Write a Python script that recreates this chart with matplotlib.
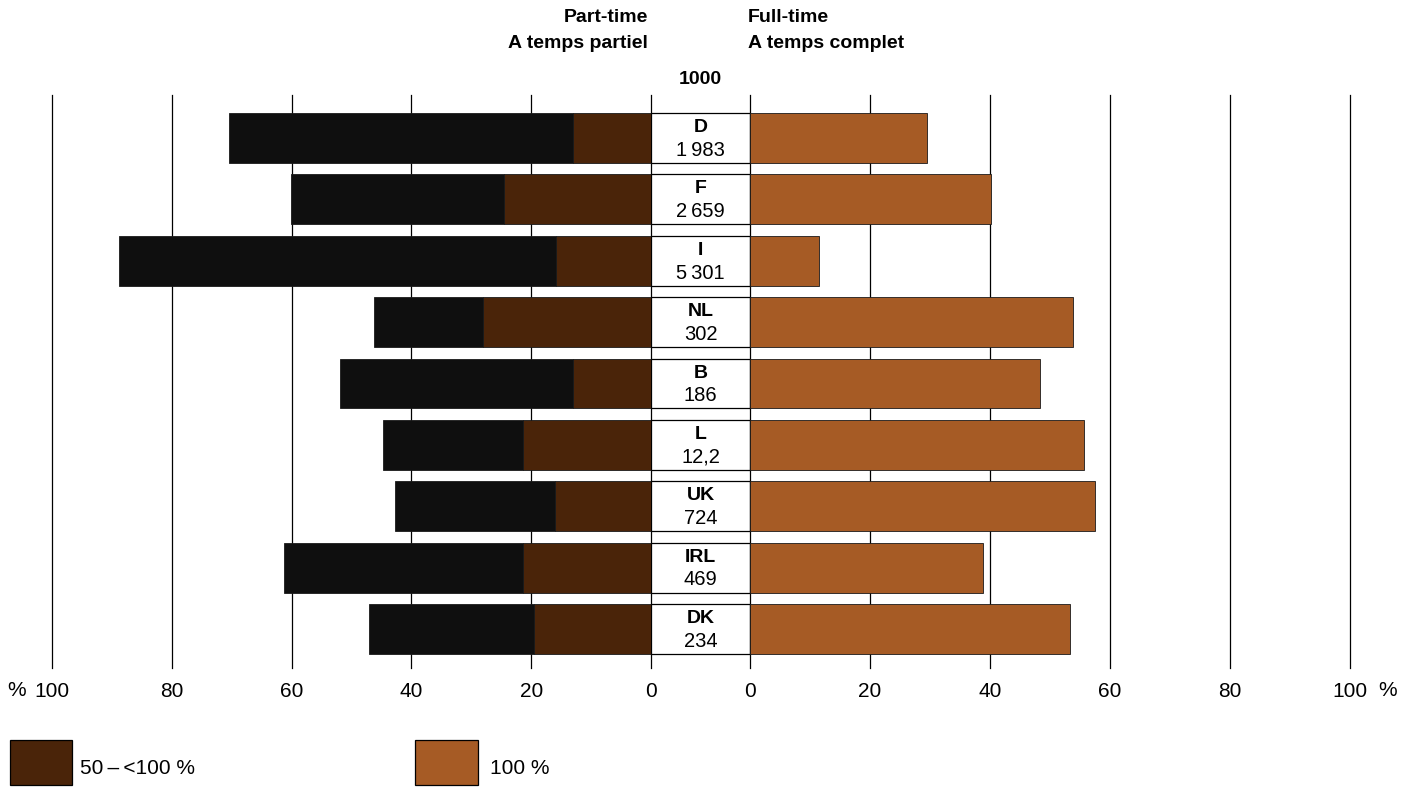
import numpy as np
import matplotlib.pyplot as plt
from matplotlib.patches import Rectangle

plt.rcParams["font.family"] = ["Liberation Sans", "DejaVu Sans"]

# ==================================================
# Data
# ==================================================
countries = ["D", "F", "I", "NL", "B", "L", "UK", "IRL", "DK"]
totals = ["1\u2009983", "2\u2009659", "5\u2009301", "302", "186", "12,2", "724", "469", "234"]

# part-time, share working 50-<100 % and total part-time (%)
part_50_100 = [13.0, 24.5, 15.9, 28.0, 13.0, 21.4, 16.0, 21.4, 19.5]
part_total = [70.4, 60.1, 88.8, 46.2, 51.9, 44.7, 42.7, 61.3, 47.1]

# full-time, 100 %
full_100 = [29.5, 40.2, 11.5, 53.8, 48.3, 55.7, 57.5, 38.8, 53.3]

ticks = [0, 20, 40, 60, 80, 100]

col_black = "#0f0f0f"
col_dark = "#4a2409"
col_light = "#a65b25"


def main():
    W, H = 1418, 787
    fig = plt.figure(figsize=(W / 100, H / 100), dpi=100)
    fig.patch.set_facecolor("white")

    y = np.arange(len(countries))
    top_px, bot_px = 95, 668
    ylim = (8.635, -0.70)
    bar_h = 0.81

    def fx(px):
        return px / W

    def fy(py):
        return 1 - py / H

    ax_l = fig.add_axes([fx(52), fy(bot_px), fx(651 - 52), (bot_px - top_px) / H])
    ax_m = fig.add_axes([fx(651), fy(bot_px), fx(750 - 651), (bot_px - top_px) / H])
    ax_r = fig.add_axes([fx(750), fy(bot_px), fx(1350 - 750), (bot_px - top_px) / H])

    for ax in (ax_l, ax_r):
        ax.set_ylim(*ylim)
        ax.set_xticks(ticks)
        ax.set_xticklabels([str(t) for t in ticks], fontsize=15)
        ax.tick_params(axis="x", length=0, pad=10)
        ax.tick_params(axis="y", left=False, labelleft=False)
        for s in ax.spines.values():
            s.set_visible(False)
        for t in ticks:
            ax.axvline(t, color="black", lw=0.9, zorder=0, clip_on=False)

    ax_l.set_xlim(100, 0)
    ax_r.set_xlim(0, 100)

    # Part-time: brown near the centre, black for the remainder
    brown = np.array(part_50_100)
    rest = np.array(part_total) - brown
    ax_l.barh(y, brown, left=0, height=bar_h, color=col_dark,
              edgecolor="#1a1a1a", lw=0.6, zorder=2)
    ax_l.barh(y, rest, left=brown, height=bar_h, color=col_black,
              edgecolor="#1a1a1a", lw=0.6, zorder=2)

    # Full-time
    ax_r.barh(y, full_100, left=0, height=bar_h, color=col_light,
              edgecolor="#1a1a1a", lw=0.6, zorder=2)

    # Centre boxes with country and totals
    ax_m.set_xlim(0, 1)
    ax_m.set_ylim(*ylim)
    ax_m.axis("off")
    ax_m.barh(y, 1, left=0, height=bar_h, color="white",
              edgecolor="black", lw=0.9, zorder=2)
    for i, (c, n) in enumerate(zip(countries, totals)):
        ax_m.text(0.5, i - 0.17, c, ha="center", va="center",
                  fontsize=14, fontweight="bold", zorder=3)
        ax_m.text(0.5, i + 0.2, n, ha="center", va="center",
                  fontsize=14.5, zorder=3)

    # Percent signs next to the 100 labels
    fig.text(fx(26), fy(690), "%", ha="right", va="center", fontsize=15)
    fig.text(fx(1378), fy(690), "%", ha="left", va="center", fontsize=15)

    # Headers
    fig.text(fx(648), fy(18), "Part-time", ha="right", va="center",
             fontsize=14, fontweight="bold")
    fig.text(fx(648), fy(43), "A temps partiel", ha="right", va="center",
             fontsize=14, fontweight="bold")
    fig.text(fx(748), fy(18), "Full-time", ha="left", va="center",
             fontsize=14, fontweight="bold")
    fig.text(fx(748), fy(43), "A temps complet", ha="left", va="center",
             fontsize=14, fontweight="bold")
    fig.text(fx(700), fy(79), "1000", ha="center", va="center",
             fontsize=14, fontweight="bold")

    # Legend
    fig.add_artist(Rectangle((fx(10), fy(785)), fx(62), 45 / H,
                             transform=fig.transFigure, facecolor=col_dark,
                             edgecolor="black", lw=0.9))
    fig.text(fx(80), fy(768), "50\u2009\u2013\u2009<100 %", ha="left", va="center",
             fontsize=15)
    fig.add_artist(Rectangle((fx(415), fy(785)), fx(63), 45 / H,
                             transform=fig.transFigure, facecolor=col_light,
                             edgecolor="black", lw=0.9))
    fig.text(fx(490), fy(768), "100 %", ha="left", va="center", fontsize=15)

    fig.savefig("out.png", dpi=100)


if __name__ == "__main__":
    main()
